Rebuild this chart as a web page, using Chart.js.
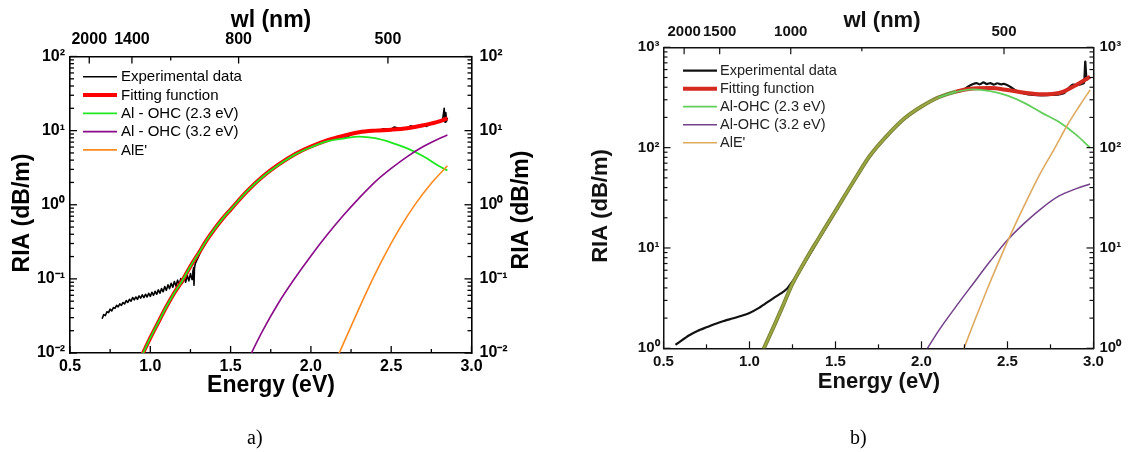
<!DOCTYPE html>
<html>
<head>
<meta charset="utf-8">
<title>RIA spectra</title>
<script src="https://cdn.jsdelivr.net/npm/chart.js@4.4.1/dist/chart.umd.min.js"></script>
<style>
  body { margin: 0; background: #fff; width: 1130px; height: 452px; position: relative; overflow: hidden; }
  canvas { position: absolute; top: 0; }
  #chart-a { left: 0; }
  #chart-b { left: 565px; }
  .panel-tag { position: absolute; font: 20px "Liberation Serif", "Times New Roman", serif; color: #000; }
</style>
</head>
<body>
<canvas id="chart-a" width="565" height="452"></canvas>
<canvas id="chart-b" width="565" height="452"></canvas>
<div class="panel-tag" style="left:247px; top:426px">a)</div>
<div class="panel-tag" style="left:850px; top:426px">b)</div>
<script>
// ---- panel a) data (energy in eV, RIA in dB/m) ----
const aExpE = [0.70,0.71,0.72,0.73,0.74,0.75,0.76,0.77,0.78,0.79,0.80,0.81,0.82,0.83,0.84,0.85,0.86,0.87,0.88,0.89,
  0.90,0.91,0.92,0.93,0.94,0.95,0.96,0.97,0.98,0.99,1.00,1.01,1.02,1.03,1.04,1.05,1.06,1.07,1.08,1.09,
  1.10,1.11,1.12,1.13,1.14,1.15,1.16,1.17,1.18,1.19,1.20,1.21,1.22,1.23,1.24,1.25,1.26,1.265,1.27,1.272,
  1.275,1.28,1.30,1.32,1.34,1.36,1.38,1.40,1.42,1.44,1.46,1.48,1.50,1.55,1.60,1.65,1.70,1.75,1.80,1.85,
  1.90,1.95,2.00,2.05,2.10,2.15,2.20,2.22,2.25,2.30,2.35,2.40,2.42,2.45,2.50,2.52,2.55,2.60,2.62,2.65,
  2.70,2.72,2.75,2.78,2.80,2.82,2.83,2.835,2.84,2.845,2.85];
const aExpRIA = [0.029,0.033,0.032,0.036,0.035,0.039,0.037,0.041,0.040,0.044,0.042,0.046,0.044,0.048,0.046,0.051,0.048,0.053,0.050,0.056,
  0.052,0.057,0.053,0.059,0.055,0.061,0.056,0.062,0.057,0.064,0.058,0.066,0.060,0.068,0.062,0.071,0.064,0.074,0.067,0.079,
  0.070,0.083,0.074,0.087,0.077,0.092,0.080,0.096,0.083,0.101,0.087,0.105,0.090,0.112,0.094,0.118,0.098,0.125,0.142,0.082,
  0.140,0.16,0.20,0.25,0.29,0.36,0.39,0.48,0.52,0.63,0.68,0.80,0.84,1.15,1.52,1.90,2.45,2.90,3.50,4.15,
  4.80,5.50,6.10,6.80,7.40,7.90,8.40,8.0,8.9,9.6,9.9,10.2,9.8,10.6,10.5,11.2,10.7,11.0,11.6,11.1,
  11.9,11.4,12.4,12.8,13.4,14.0,20.0,13.0,17.5,13.5,15.0];
const aFitE = [0.95,1.00,1.05,1.10,1.15,1.20,1.25,1.30,1.35,1.40,1.45,1.50,1.60,1.70,1.80,1.90,2.00,2.10,2.20,2.30,2.40,2.50,2.60,2.70,2.80,2.85];
const aFitRIA = [0.0095,0.016,0.026,0.042,0.065,0.095,0.148,0.22,0.33,0.47,0.65,0.86,1.5,2.4,3.5,4.8,6.1,7.4,8.5,9.5,10.0,10.3,10.8,11.8,13.3,14.7];
const aOhc23RIA = [0.0095,0.016,0.026,0.042,0.065,0.095,0.148,0.22,0.33,0.47,0.65,0.86,1.5,2.39,3.47,4.75,5.96,7.16,7.8,8.3,7.9,6.9,5.75,4.5,3.3,2.9];
const aOhc32E = [1.60,1.70,1.80,1.90,2.00,2.10,2.20,2.30,2.40,2.50,2.60,2.70,2.80,2.85];
const aOhc32RIA = [0.0074,0.020,0.048,0.102,0.204,0.39,0.71,1.23,2.04,3.09,4.47,6.1,7.85,8.7];
const aAlE = [2.17,2.25,2.35,2.45,2.55,2.65,2.75,2.85];
const aAlRIA = [0.0093,0.0229,0.069,0.19,0.468,1.02,1.95,3.35];
const aWlTicks = [2000, 1400, 1100, 800, 500];
const aWlLabels = ['2000', '1400', '', '800', '500'];

// ---- panel b) data ----
const bExpE = [0.57,0.60,0.65,0.70,0.75,0.80,0.85,0.90,0.95,1.00,1.05,1.10,1.15,1.20,1.22,1.30,1.40,1.50,1.60,1.70,
  1.80,1.90,2.00,2.10,2.15,2.20,2.24,2.27,2.30,2.32,2.34,2.36,2.38,2.40,2.42,2.44,2.46,2.48,2.50,2.52,
  2.55,2.60,2.65,2.70,2.75,2.80,2.83,2.86,2.88,2.90,2.93,2.945,2.952,2.958,2.965,2.97];
const bExpRIA = [1.08,1.18,1.35,1.50,1.62,1.75,1.87,1.98,2.10,2.25,2.50,2.85,3.25,3.70,3.95,6.2,12.0,23,44,82,
  130,192,255,318,340,358,372,405,430,440,428,448,430,440,425,438,428,432,418,400,
  370,345,335,332,335,340,350,400,425,420,430,440,720,520,480,490];
const bFitE = [1.08,1.15,1.20,1.25,1.30,1.35,1.40,1.45,1.50,1.60,1.70,1.80,1.90,2.00,2.10,2.20,2.30,2.40,2.50,2.60,2.70,2.80,2.90,2.98];
const bFitRIA = [0.97,1.78,2.8,4.4,6.3,8.9,12.3,17,23.4,44.7,83,132,195,257,318,362,388,392,375,352,340,350,422,510];
const bOhc23RIA = [0.97,1.78,2.8,4.4,6.3,8.9,12.3,17,23.4,44.7,83,132,195,257,316,359,380,365,330,278,222,180,134,100];
const bOhc32E = [2.03,2.10,2.20,2.30,2.40,2.50,2.60,2.70,2.80,2.90,2.98];
const bOhc32RIA = [0.97,1.5,2.6,4.4,7.4,12.0,17.8,25,33,39,43.4];
const bAlE = [2.24,2.30,2.38,2.45,2.52,2.60,2.69,2.77,2.85,2.92,2.98];
const bAlRIA = [0.93,1.73,3.81,7.36,13.8,27.0,55,95.5,170,263,375];
const bWlTicks = [2000, 1500, 1000, 750, 500];
const bWlLabels = ['2000', '1500', '1000', '', '500'];

const HC = 1239.84; // eV * nm
const FONT = '"Liberation Sans", Arial, sans-serif';
const SUP = { '-': '\u207B', '0': '\u2070', '1': '\u00B9', '2': '\u00B2', '3': '\u00B3' };

function pts(xs, ys) {
  return xs.map((x, i) => ({ x, y: ys[i] }));
}

function decadeLabel(v) {
  const e = Math.log10(v);
  const r = Math.round(e);
  if (Math.abs(e - r) > 1e-6) return '';
  return '10' + String(r).split('').map(c => SUP[c]).join('');
}

// keep only 1..9 x 10^n ticks on log axes
function keepIntegerMantissa(scale) {
  scale.ticks = scale.ticks.filter(t => {
    const m = t.value / Math.pow(10, Math.floor(Math.log10(t.value) + 1e-9));
    return Math.abs(m - Math.round(m)) < 1e-6;
  });
}

// inward tick marks, axis titles and the in-plot legend
const panelDeco = {
  id: 'panelDeco',
  afterDraw(chart, args, opts) {
    const { ctx, chartArea: ca } = chart;
    ctx.save();
    ctx.strokeStyle = opts.color;
    ctx.lineWidth = opts.tickWidth;
    Object.values(chart.scales).forEach(scale => {
      scale.ticks.forEach(t => {
        const len = t.label ? opts.major : opts.minor;
        const p = scale.getPixelForValue(t.value);
        ctx.beginPath();
        if (scale.position === 'left') { ctx.moveTo(ca.left, p); ctx.lineTo(ca.left + len, p); }
        else if (scale.position === 'right') { ctx.moveTo(ca.right, p); ctx.lineTo(ca.right - len, p); }
        else if (scale.position === 'top') { ctx.moveTo(p, ca.top); ctx.lineTo(p, ca.top + len); }
        else { ctx.moveTo(p, ca.bottom); ctx.lineTo(p, ca.bottom - len); }
        ctx.stroke();
      });
    });

    ctx.fillStyle = opts.color;
    ctx.textAlign = 'center';
    ctx.textBaseline = 'middle';
    opts.titles.forEach(t => {
      ctx.save();
      ctx.translate(t.x, t.y);
      ctx.rotate(t.rot || 0);
      ctx.font = opts.titleFont;
      ctx.fillText(t.text, 0, 0);
      ctx.restore();
    });

    const lg = opts.legend;
    ctx.font = lg.font;
    ctx.textAlign = 'left';
    chart.data.datasets.forEach((ds, i) => {
      const y = lg.y + i * lg.row;
      ctx.strokeStyle = ds.borderColor;
      ctx.lineWidth = ds.legendWidth;
      ctx.beginPath();
      ctx.moveTo(lg.x, y);
      ctx.lineTo(lg.x + lg.len, y);
      ctx.stroke();
      ctx.fillStyle = lg.color;
      ctx.fillText(ds.label, lg.x + lg.len + lg.gap, y + 0.5);
    });
    ctx.restore();
  }
};

function line(label, data, color, width, extra) {
  return Object.assign({
    label, data, borderColor: color, borderWidth: width, legendWidth: width,
    pointRadius: 0, fill: false, tension: 0, borderJoinStyle: 'round'
  }, extra || {});
}

function makePanel(canvas, p) {
  const tickFont = { family: FONT, size: p.tickSize, weight: 'bold' };
  const axisBase = {
    grid: { drawOnChartArea: false, drawTicks: false },
    border: { display: true, color: p.axisColor, width: p.axisWidth },
    ticks: { font: tickFont, color: p.axisColor, autoSkip: false, maxRotation: 0 }
  };
  const logAxis = (position, pad, width) => ({
    ...axisBase, type: 'logarithmic', position, min: p.yMin, max: p.yMax,
    afterBuildTicks: keepIntegerMantissa,
    afterFit: s => { s.width = width; },
    ticks: { ...axisBase.ticks, padding: pad, callback: v => decadeLabel(v) }
  });

  return new Chart(canvas, {
    type: 'line',
    data: { datasets: p.datasets },
    options: {
      responsive: false,
      animation: false,
      devicePixelRatio: 1,
      layout: { padding: 0 },
      plugins: { legend: { display: false }, tooltip: { enabled: false }, panelDeco: p.deco },
      scales: {
        x: {
          ...axisBase, type: 'linear', position: 'bottom', min: 0.5, max: 3.0,
          afterFit: s => { s.height = p.bottomH; },
          ticks: {
            ...axisBase.ticks, stepSize: 0.25, padding: p.bottomPad,
            callback: v => (Math.abs(v * 2 - Math.round(v * 2)) < 1e-6 ? v.toFixed(1) : '')
          }
        },
        x2: {
          ...axisBase, type: 'linear', position: 'top', min: 0.5, max: 3.0,
          afterBuildTicks: s => { s.ticks = p.wlTicks.map(nm => ({ value: HC / nm })); },
          afterFit: s => { s.height = p.topH; },
          ticks: { ...axisBase.ticks, padding: p.topPad, callback: (v, i) => p.wlLabels[i] }
        },
        y: logAxis('left', p.leftPad, p.leftW),
        y2: logAxis('right', p.rightPad, p.rightW)
      }
    },
    plugins: [panelDeco]
  });
}

// ---- panel a) ----
makePanel(document.getElementById('chart-a'), {
  yMin: 0.01, yMax: 100, tickSize: 16, axisColor: '#000', axisWidth: 1.6,
  leftW: 70, rightW: 93.5, topH: 56.5, bottomH: 99,
  leftPad: 5, rightPad: 8, topPad: 7, bottomPad: 4,
  wlTicks: aWlTicks, wlLabels: aWlLabels,
  datasets: [
    line('Experimental data', pts(aExpE, aExpRIA), '#000000', 1.6, { order: 5 }),
    line('Fitting function', pts(aFitE, aFitRIA), '#ff0000', 4, { order: 4, cubicInterpolationMode: 'monotone' }),
    line('Al - OHC (2.3 eV)', pts(aFitE, aOhc23RIA), '#1ee81e', 1.8, { order: 3, cubicInterpolationMode: 'monotone' }),
    line('Al - OHC (3.2 eV)', pts(aOhc32E, aOhc32RIA), '#8a0a8a', 1.6, { order: 2, cubicInterpolationMode: 'monotone' }),
    line("AlE'", pts(aAlE, aAlRIA), '#ff8a1e', 1.6, { order: 1, cubicInterpolationMode: 'monotone' })
  ],
  deco: {
    color: '#000', tickWidth: 1.3, major: 7, minor: 4,
    titleFont: 'bold 23px ' + FONT,
    titles: [
      { text: 'wl (nm)', x: 271, y: 21 },
      { text: 'Energy (eV)', x: 271, y: 386 },
      { text: 'RIA (dB/m)', x: 23, y: 213, rot: -Math.PI / 2 },
      { text: 'RIA (dB/m)', x: 522, y: 210, rot: -Math.PI / 2 }
    ],
    legend: { x: 83, y: 76.7, row: 18.3, len: 34, gap: 4, font: '15px ' + FONT, color: '#000' }
  }
});

// ---- panel b) ----
const olive = '#80853a';
makePanel(document.getElementById('chart-b'), {
  yMin: 1, yMax: 1000, tickSize: 15, axisColor: '#111', axisWidth: 1.5,
  leftW: 98.5, rightW: 36.5, topH: 47.3, bottomH: 103.7,
  leftPad: 4, rightPad: 6, topPad: 6, bottomPad: 5,
  wlTicks: bWlTicks, wlLabels: bWlLabels,
  datasets: [
    line('Experimental data', pts(bExpE, bExpRIA), '#111111', 2.2, { order: 5, tension: 0.2 }),
    line('Fitting function', pts(bFitE, bFitRIA), '#d42a20', 4, {
      order: 4, cubicInterpolationMode: 'monotone',
      segment: { borderColor: c => (c.p0.parsed.x < 2.2 ? olive : undefined) }
    }),
    line('Al-OHC (2.3 eV)', pts(bFitE, bOhc23RIA), '#62cf5a', 1.8, {
      order: 3, cubicInterpolationMode: 'monotone',
      segment: { borderColor: c => (c.p0.parsed.x < 2.1 ? '#9aaa40' : undefined) }
    }),
    line('Al-OHC (3.2 eV)', pts(bOhc32E, bOhc32RIA), '#74408a', 1.5, { order: 2, cubicInterpolationMode: 'monotone' }),
    line("AlE'", pts(bAlE, bAlRIA), '#deaa60', 1.6, { order: 1, cubicInterpolationMode: 'monotone' })
  ],
  deco: {
    color: '#111', tickWidth: 1.2, major: 7, minor: 4,
    titleFont: 'bold 22px ' + FONT,
    titles: [
      { text: 'wl (nm)', x: 317, y: 21 },
      { text: 'Energy (eV)', x: 314, y: 382 },
      { text: 'RIA (dB/m)', x: 36, y: 206, rot: -Math.PI / 2 }
    ],
    legend: { x: 118, y: 70.7, row: 18, len: 34, gap: 3, font: '14.5px ' + FONT, color: '#222' }
  }
});
</script>
</body>
</html>
